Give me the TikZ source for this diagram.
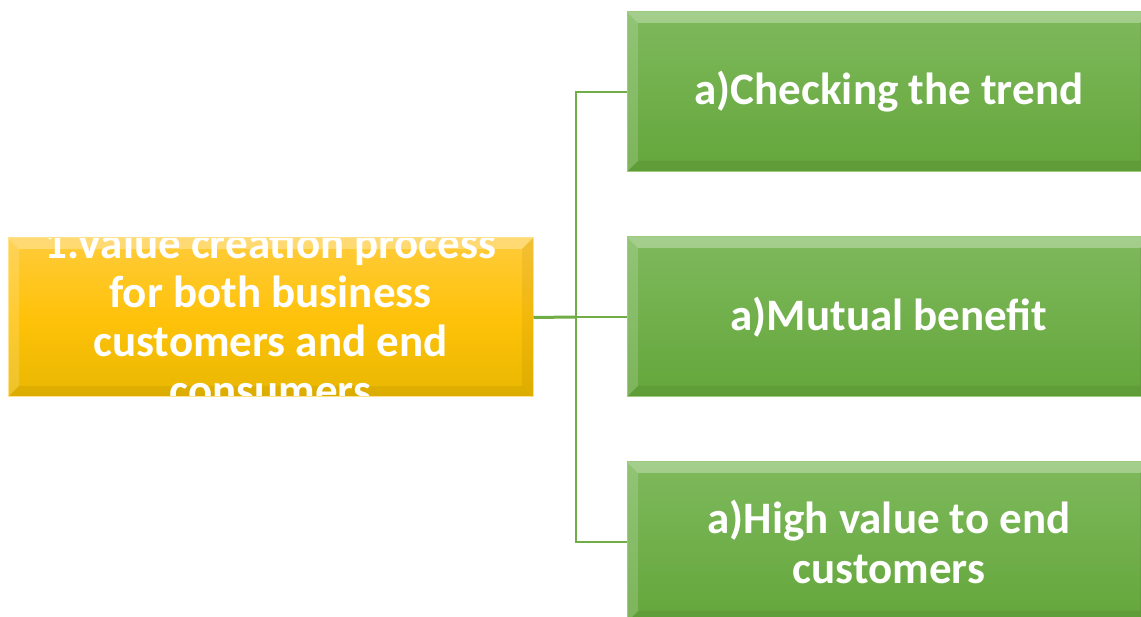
\documentclass[tikz,border=0pt]{standalone}
\usepackage{fontspec}
\setmainfont{Carlito}
\usetikzlibrary{calc}

\definecolor{goldtop}{HTML}{FFCB3A}
\definecolor{goldmid}{HTML}{FFC20A}
\definecolor{goldbot}{HTML}{E9B700}
\definecolor{goldedge}{HTML}{FFE28A}
\definecolor{leaftop}{HTML}{7EB95C}
\definecolor{leafbot}{HTML}{64A63B}
\definecolor{leafedge}{HTML}{9CCB7E}
\definecolor{linkgreen}{HTML}{70AD47}

% light upper and left facets, darker lower and right facets of a bevelled box
\newcommand{\bevelfacets}{%
  \fill[white,opacity=0.3]
    (path picture bounding box.north west) -- (path picture bounding box.north east)
    -- ($(path picture bounding box.north east)+(-11,-11)$)
    -- ($(path picture bounding box.north west)+(11,-11)$) -- cycle;
  \fill[white,opacity=0.16]
    (path picture bounding box.north west) -- ($(path picture bounding box.north west)+(11,-11)$)
    -- ($(path picture bounding box.south west)+(11,11)$)
    -- (path picture bounding box.south west) -- cycle;
  \fill[black,opacity=0.06]
    (path picture bounding box.south west) -- ($(path picture bounding box.south west)+(11,11)$)
    -- ($(path picture bounding box.south east)+(-11,11)$)
    -- (path picture bounding box.south east) -- cycle;
  \fill[black,opacity=0.05]
    (path picture bounding box.north east) -- ($(path picture bounding box.north east)+(-11,-11)$)
    -- ($(path picture bounding box.south east)+(-11,11)$)
    -- (path picture bounding box.south east) -- cycle;
}

\tikzset{
  goldbox/.style={rectangle, inner sep=0pt, minimum width=525pt, minimum height=159pt,
    draw=goldedge, line width=1pt, top color=goldtop, bottom color=goldbot,
    middle color=goldmid},
  leafbox/.style={rectangle, inner sep=0pt, minimum width=524pt, minimum height=160pt,
    draw=leafedge, line width=1pt, top color=leaftop, bottom color=leafbot,
    text=white, align=center, font=\bfseries\fontsize{45}{50}\selectfont,
    path picture={\bevelfacets}},
  boxtext/.style={text=white, align=center, font=\bfseries\fontsize{45}{49}\selectfont},
  link/.style={draw=linkgreen, line width=2pt},
  mainlink/.style={draw=linkgreen, line width=3pt}
}

\begin{document}
\begin{tikzpicture}[x=1pt,y=1pt]
\useasboundingbox (0,0) rectangle (1141,617);
\clip (0,0) rectangle (1141,617);

% root box, its text set larger than the box and clipped to it
\node[goldbox, path picture={
    \bevelfacets
    \node[boxtext] at ($(path picture bounding box.center)+(0,1)$)
      {1.Value creation process\\for both business\\customers and end\\consumers};
  }] (root) at (270.5,299.5) {};

% three branch boxes
\node[leafbox] (b1) at (889,525) {a)Checking the trend};
\node[leafbox] (b2) at (889,300) {a)Mutual benefit};
\node[leafbox] (b3) at (889,75) {a)High value to end\\customers};

% bracket connector
\coordinate (fork) at (576,300);
\draw[mainlink] (root.east) -- (fork);
\draw[link] (b1.west) -| (fork) |- (b3.west);
\draw[link] (fork) -- (b2.west);
\end{tikzpicture}
\end{document}
